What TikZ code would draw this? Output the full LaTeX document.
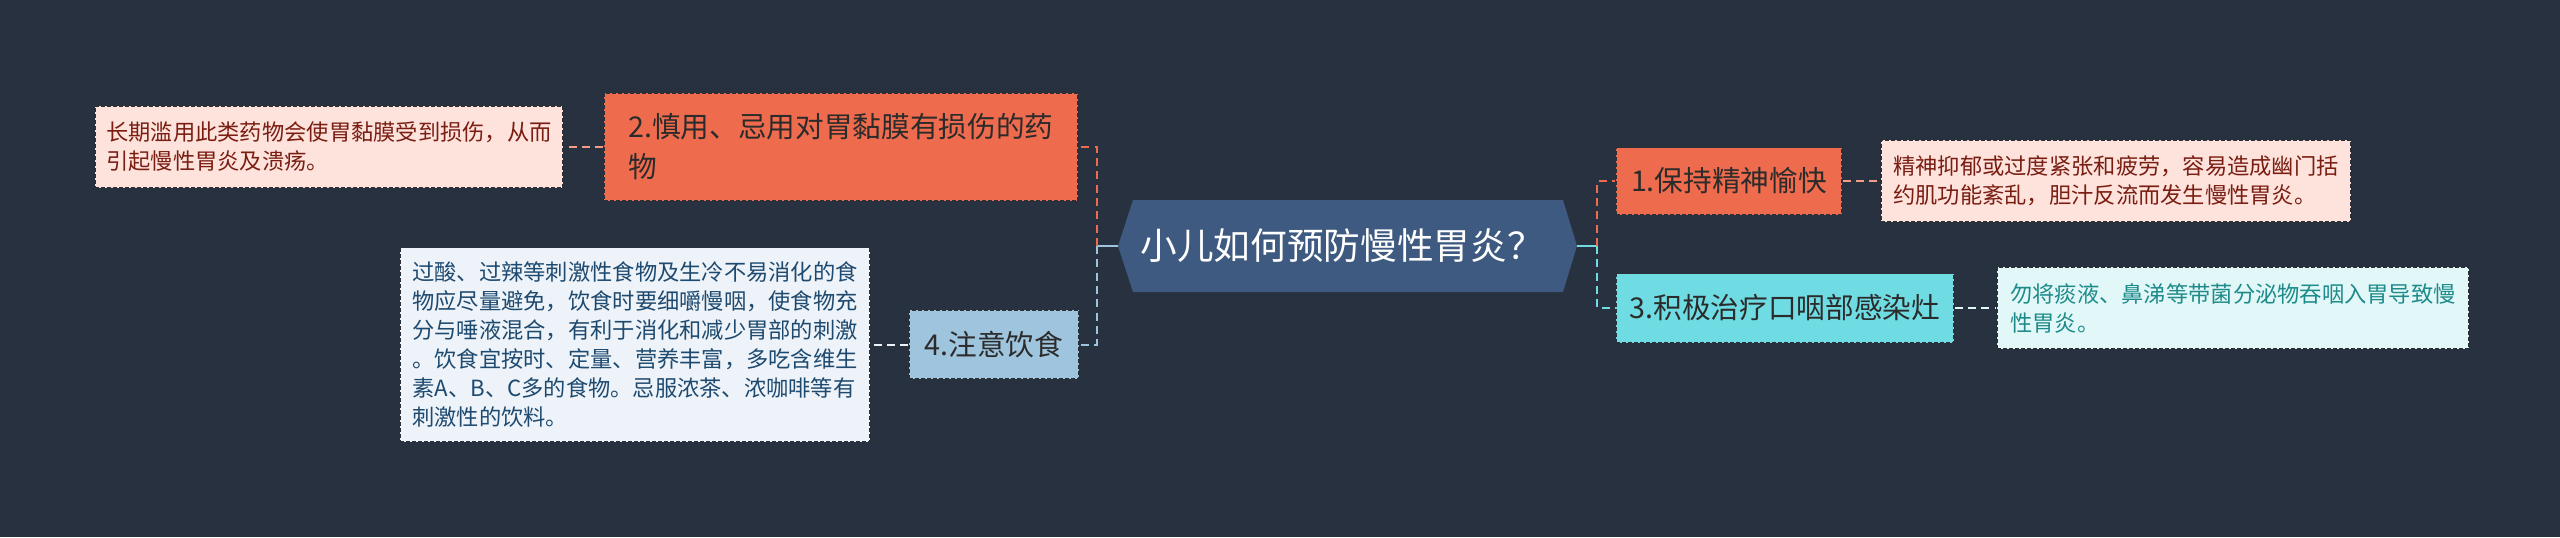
\documentclass[tikz,border=0pt]{standalone}
\usepackage{fontspec}
\setmainfont{Noto Sans CJK SC}
\definecolor{bg}{HTML}{283140}
\definecolor{cmain}{HTML}{3E5A80}
\definecolor{orng}{HTML}{EE6C4D}
\definecolor{orngl}{HTML}{FDE3DC}
\definecolor{orngt}{HTML}{7A1D12}
\definecolor{blu}{HTML}{9FC4DD}
\definecolor{blul}{HTML}{EDF3F8}
\definecolor{blut}{HTML}{1F4A70}
\definecolor{cyn}{HTML}{6FDCE3}
\definecolor{cynl}{HTML}{E2F8F8}
\definecolor{cynt}{HTML}{1E8A8A}
\definecolor{bord}{HTML}{2A2F38}
\definecolor{ntext}{HTML}{2B2B2B}
\tikzset{
  box/.style={draw=bord, line width=0.8pt, dash pattern=on 3pt off 1.5pt, inner sep=0pt, align=left},
  topic/.style={box, text=ntext, font=\fontsize{21.5pt}{30pt}\selectfont},
  leaf/.style={box, font=\fontsize{16.7pt}{21.75pt}\selectfont},
  conn/.style={line width=1.5pt, dash pattern=on 6pt off 4pt},
  stub/.style={line width=1.5pt}
}
\begin{document}
\begin{tikzpicture}[x=0.75pt,y=-0.75pt]
\fill[bg] (0,0) rectangle (2560,537);
\useasboundingbox (0,0) rectangle (2560,537);
% central hexagon
\fill[cmain] (1118,246) -- (1133,200) -- (1563,200) -- (1577,246) -- (1563,292) -- (1133,292) -- cycle;
\node[text=white, font=\fontsize{27.5pt}{32pt}\selectfont] (c) at (1342,246) {小儿如何预防慢性胃炎？};
\coordinate (cl) at (1118,246);
\coordinate (cr) at (1577,246);
\coordinate (jl) at (1097,246);
\coordinate (jr) at (1597,246);
% topics
\node[topic, fill=orng, minimum width=355.5pt, minimum height=81pt] (n2) at (841,147) {2.慎用、忌用对胃黏膜有损伤的药\\物};
\node[topic, fill=blu, minimum width=127.5pt, minimum height=51.75pt] (n4) at (994,344.5) {4.注意饮食};
\node[topic, fill=orng, minimum width=169.5pt, minimum height=50.25pt] (n1) at (1729,181) {1.保持精神愉快};
\node[topic, fill=cyn, minimum width=253.5pt, minimum height=51.75pt] (n3) at (1785,308) {3.积极治疗口咽部感染灶};
% leaves
\node[leaf, fill=orngl, text=orngt, minimum width=351pt, minimum height=61.5pt] (l2) at (329,147) {长期滥用此类药物会使胃黏膜受到损伤，从而\\引起慢性胃炎及溃疡。};
\node[leaf, fill=blul, text=blut, minimum width=352.5pt, minimum height=145.5pt] (l4) at (635,344.5) {过酸、过辣等刺激性食物及生冷不易消化的食\\物应尽量避免，饮食时要细嚼慢咽，使食物充\\分与唾液混合，有利于消化和减少胃部的刺激\\。饮食宜按时、定量、营养丰富，多吃含维生\\素A、B、C多的食物。忌服浓茶、浓咖啡等有\\刺激性的饮料。};
\node[leaf, fill=orngl, text=orngt, minimum width=352.5pt, minimum height=61.5pt] (l1) at (2116,181) {精神抑郁或过度紧张和疲劳，容易造成幽门括\\约肌功能紊乱，胆汁反流而发生慢性胃炎。};
\node[leaf, fill=cynl, text=cynt, minimum width=354pt, minimum height=61.5pt] (l3) at (2233,308) {勿将痰液、鼻涕等带菌分泌物吞咽入胃导致慢\\性胃炎。};
% connectors
\draw[stub, blu] (cl) -- (jl);
\draw[stub, cyn] (cr) -- (jr);
\draw[conn, orng] (jl) |- (n2.east);
\draw[conn, blu] (jl) |- (n4.east);
\draw[conn, orng] (jr) |- (n1.west);
\draw[conn, cyn] (jr) |- (n3.west);
\draw[conn, orng!60!orngl] (n2.west) -- (l2.east);
\draw[conn, blul] (n4.west) -- (l4.east);
\draw[conn, orng!60!orngl] (n1.east) -- (l1.west);
\draw[conn, cynl] (n3.east) -- (l3.west);
\end{tikzpicture}
\end{document}
